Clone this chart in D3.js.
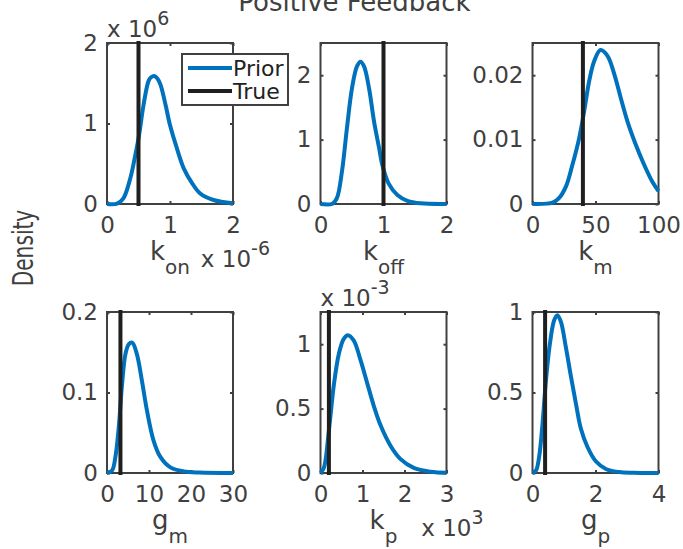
<!DOCTYPE html>
<html>
<head>
<meta charset="utf-8">
<script src="https://cdn.jsdelivr.net/npm/d3@7"></script>
<style>
  body { margin: 0; background: #fff; }
  svg { display: block; font-family: "DejaVu Sans", sans-serif; }
</style>
</head>
<body>
<svg id="chart" width="683" height="549"></svg>
<script>
// prior densities (axis units as displayed)
const konX = [0, 0.16, 0.26, 0.37, 0.45, 0.51, 0.58, 0.66, 0.70, 0.75, 0.80, 0.85, 0.93, 1.0, 1.11, 1.22, 1.35, 1.48, 1.69, 2.0];
const konY = [0, 0.005, 0.07, 0.32, 0.61, 0.86, 1.23, 1.53, 1.575, 1.59, 1.56, 1.48, 1.23, 0.98, 0.69, 0.44, 0.26, 0.13, 0.05, 0.01];
const koffX = [0, 0.19, 0.26, 0.34, 0.42, 0.50, 0.58, 0.635, 0.69, 0.77, 0.85, 0.93, 0.98, 1.08, 1.22, 1.38, 1.59, 2.0];
const koffY = [0, 0.005, 0.09, 0.50, 1.18, 1.80, 2.14, 2.21, 2.14, 1.80, 1.28, 0.87, 0.61, 0.32, 0.14, 0.05, 0.01, 0];
const kmX = [0, 15.9, 21, 26.5, 31.7, 37, 41, 45, 49, 54, 59.5, 65, 70, 75.4, 82, 88.6, 95, 100];
const kmY = [0, 0.0002, 0.0009, 0.0027, 0.0061, 0.0102, 0.0144, 0.0191, 0.0222, 0.0239, 0.0230, 0.0201, 0.0165, 0.0128, 0.0092, 0.0061, 0.0035, 0.0020];
const gmX = [0, 1.2, 2.0, 2.8, 3.6, 4.4, 5.2, 6.0, 7.1, 8.3, 9.5, 11.1, 12.7, 15.1, 18.3, 22, 30];
const gmY = [0, 0.003, 0.02, 0.057, 0.111, 0.148, 0.160, 0.162, 0.148, 0.115, 0.078, 0.040, 0.020, 0.007, 0.002, 0.0005, 0];
const kpX = [0, 0.08, 0.2, 0.32, 0.44, 0.55, 0.65, 0.79, 0.95, 1.11, 1.27, 1.43, 1.67, 1.9, 2.22, 2.62, 3];
const kpY = [0, 0.04, 0.33, 0.69, 0.93, 1.04, 1.07, 1.03, 0.88, 0.70, 0.52, 0.37, 0.21, 0.11, 0.04, 0.01, 0.002];
const gpX = [0, 0.11, 0.21, 0.32, 0.42, 0.55, 0.69, 0.79, 0.90, 1.06, 1.22, 1.38, 1.53, 1.75, 2.01, 2.33, 2.75, 3.2, 4];
const gpY = [0, 0.015, 0.10, 0.31, 0.56, 0.80, 0.95, 0.98, 0.94, 0.78, 0.60, 0.43, 0.28, 0.16, 0.073, 0.025, 0.006, 0.001, 0];

const priorX = [konX, koffX, kmX, gmX, kpX, gpX];
const priorY = [konY, koffY, kmY, gmY, kpY, gpY];
const trueValues = [0.5, 1, 40, 3.2, 0.2, 0.4];

const paramNames = ["k", "k", "k", "g", "k", "g"];
const paramSubs = ["on", "off", "m", "m", "p", "p"];
const xDomains = [[0, 2], [0, 2], [0, 100], [0, 30], [0, 3], [0, 4]];
const yDomains = [[0, 2], [0, 2.5], [0, 0.025], [0, 0.2], [0, 1.25], [0, 1]];
const xTicks = [[0, 1, 2], [0, 1, 2], [0, 50, 100], [0, 10, 20, 30], [0, 1, 2, 3], [0, 2, 4]];
const yTicks = [[0, 1, 2], [0, 1, 2], [0, 0.01, 0.02], [0, 0.1, 0.2], [0, 0.5, 1], [0, 0.5, 1]];
const xExponents = ["-6", null, null, null, "3", null];
const yExponents = ["6", null, null, null, "-3", null];
const legendLabels = ["Prior", "True"];

const titleText = "Positive Feedback";
const yLabelText = "Density";

// layout
const colLeft = [107, 320.5, 532.5], rowTop = [43, 312];
const W = 126, H = 161;
const blue = "#0072BD", black = "#1f1f1f", ink = "#404040";

const svg = d3.select("#chart");

svg.append("text")
    .attr("x", 354.5).attr("y", 11)
    .attr("text-anchor", "middle")
    .attr("font-size", 26).attr("fill", ink)
    .text(titleText);

svg.append("text")
    .attr("transform", "translate(33,248) rotate(-90) scale(0.72,1)")
    .attr("text-anchor", "middle")
    .attr("font-size", 28).attr("fill", ink)
    .text(yLabelText);

function styleAxis(sel){
    sel.select(".domain").remove();
    sel.selectAll(".tick line").attr("stroke", ink).attr("stroke-width", 2);
    sel.selectAll(".tick text").attr("fill", ink).attr("font-size", 23)
        .attr("font-family", "DejaVu Sans, sans-serif");
    sel.attr("font-family", null).attr("font-size", null);
}

priorX.forEach((xs, i) => {
    const g = svg.append("g")
        .attr("transform", `translate(${colLeft[i % 3]},${rowTop[Math.floor(i / 3)]})`);
    const x = d3.scaleLinear().domain(xDomains[i]).range([0, W]);
    const y = d3.scaleLinear().domain(yDomains[i]).range([H, 0]);
    const fmt = d => String(d);

    g.append("rect").attr("width", W).attr("height", H)
        .attr("fill", "#fff").attr("stroke", ink).attr("stroke-width", 2);

    const bottom = g.append("g").attr("transform", `translate(0,${H})`)
        .call(d3.axisBottom(x).tickValues(xTicks[i]).tickSize(-3).tickSizeOuter(0).tickFormat(fmt));
    styleAxis(bottom);
    bottom.selectAll(".tick text").attr("y", 29).attr("dy", null);

    const top = g.append("g")
        .call(d3.axisTop(x).tickValues(xTicks[i]).tickSize(-3).tickSizeOuter(0).tickFormat(""));
    styleAxis(top);

    const left = g.append("g")
        .call(d3.axisLeft(y).tickValues(yTicks[i]).tickSize(-3).tickSizeOuter(0).tickPadding(9).tickFormat(fmt));
    styleAxis(left);

    const right = g.append("g").attr("transform", `translate(${W},0)`)
        .call(d3.axisRight(y).tickValues(yTicks[i]).tickSize(-3).tickSizeOuter(0).tickFormat(""));
    styleAxis(right);

    // prior curve
    const line = d3.line().x(d => x(d[0])).y(d => y(Math.max(0, d[1])))
        .curve(d3.curveCatmullRom.alpha(0.5));
    g.append("path").datum(d3.zip(xs, priorY[i]))
        .attr("d", line).attr("fill", "none")
        .attr("stroke", blue).attr("stroke-width", 4).attr("stroke-linejoin", "round");

    // true value
    g.append("line")
        .attr("x1", x(trueValues[i])).attr("x2", x(trueValues[i]))
        .attr("y1", y(yDomains[i][0])).attr("y2", y(yDomains[i][1]))
        .attr("stroke", black).attr("stroke-width", 4).attr("stroke-linecap", "square");

    // x label with subscript
    const xl = g.append("text")
        .attr("x", W / 2).attr("y", H + 56)
        .attr("text-anchor", "middle").attr("fill", ink).attr("font-size", 26);
    xl.append("tspan").text(paramNames[i]);
    xl.append("tspan").attr("font-size", 20).attr("dy", 14).text(paramSubs[i]);

    if (xExponents[i]) {
        const ex = g.append("text")
            .attr("x", W + 37).attr("y", H + 63)
            .attr("text-anchor", "end").attr("fill", ink).attr("font-size", 23);
        ex.append("tspan").text("x 10");
        ex.append("tspan").attr("font-size", 19).attr("dy", -12).text(xExponents[i]);
    }
    if (yExponents[i]) {
        const ey = g.append("text")
            .attr("x", 0).attr("y", -6)
            .attr("fill", ink).attr("font-size", 23);
        ey.append("tspan").text("x 10");
        ey.append("tspan").attr("font-size", 19).attr("dy", -12).text(yExponents[i]);
    }

    if (i === 0) {
        const lg = g.append("g").attr("transform", "translate(75,11)");
        lg.append("rect").attr("width", 106).attr("height", 51)
            .attr("fill", "#fff").attr("stroke", ink).attr("stroke-width", 2);
        legendLabels.forEach((lab, k) => {
            const ly = 14 + k * 23;
            lg.append("line").attr("x1", 6).attr("x2", 50).attr("y1", ly).attr("y2", ly)
                .attr("stroke", k === 0 ? blue : black).attr("stroke-width", 4);
            lg.append("text").attr("x", 51).attr("y", ly + 8)
                .attr("fill", "#222").attr("font-size", 22).text(lab);
        });
    }
});
</script>
</body>
</html>
